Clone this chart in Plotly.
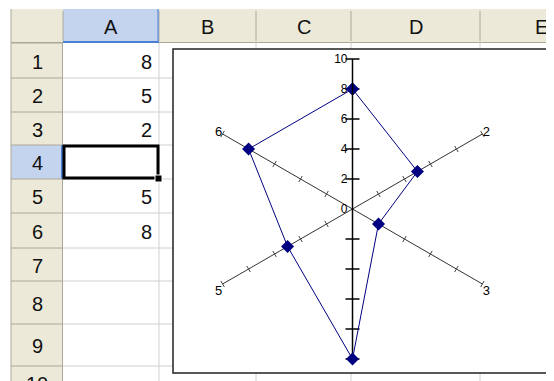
import plotly.graph_objects as go

W, H = 554, 381
OFF = 8  # default page margin in front of the figure

# spreadsheet content
col_letters = ["A", "B", "C", "D", "E"]
row_labels = ["1", "2", "3", "4", "5", "6", "7", "8", "9", "10"]
col_a_values = ["8", "5", "2", "", "5", "8"]

# radar series as drawn in the chart (category 4 plotted at the outer ring)
categories = ["1", "2", "3", "4", "5", "6"]
series_values = [8, 5, 2, 10, 5, 8]
value_ticks = [0, 2, 4, 6, 8, 10]
spoke_ticks = [2, 4, 6, 8, 10]

# sheet geometry in page pixels
col_edges = [63, 159, 256, 351, 480, 570]
row_edges = [43, 78, 112, 145, 179, 213, 248, 281, 324, 366, 400]
HDR_TOP, HDR_LEFT = 9, 11
chart_box = (173, 49, 548, 373)
center = (352.5, 209)
radius = 150

HEADER = "#ECE9D8"
HEADER_SEL = "#C4D4EF"
HEADER_LINE = "#ACA899"
GRID = "#D0D0D0"
SEL_BLUE = "#4A7FD6"
NAVY = "#000080"
FONT = "Liberation Sans"
RIGHT = W + OFF

shapes = []
annotations = []


def rect(x0, y0, x1, y1, fill=None, line_color=None, width=0, layer="below"):
    shapes.append(dict(type="rect", xref="x", yref="y", x0=x0, y0=y0, x1=x1, y1=y1,
                       fillcolor=fill, line=dict(color=line_color, width=width),
                       layer=layer))


def seg(x0, y0, x1, y1, color, width=1, layer="below"):
    shapes.append(dict(type="line", xref="x", yref="y", x0=x0, y0=y0, x1=x1, y1=y1,
                       line=dict(color=color, width=width), layer=layer))


def label(x, y, text, anchor="center", size=20):
    annotations.append(dict(x=x, y=y, text=text, xref="x", yref="y", showarrow=False,
                            xanchor=anchor, font=dict(family=FONT, size=size, color="#111")))


# cell gridlines
for y in row_edges[1:]:
    seg(col_edges[0], y, RIGHT, y, GRID)
for x in col_edges[1:-1]:
    seg(x, row_edges[0], x, RIGHT, GRID)

# column header band
rect(HDR_LEFT, HDR_TOP, RIGHT, row_edges[0], fill=HEADER)
rect(col_edges[0], HDR_TOP, col_edges[1], row_edges[0], fill=HEADER_SEL)
seg(HDR_LEFT, row_edges[0] - 0.5, RIGHT, row_edges[0] - 0.5, HEADER_LINE, 1)
seg(col_edges[0], row_edges[0] - 1, col_edges[1], row_edges[0] - 1, SEL_BLUE, 2)
for x in col_edges[:-1]:
    seg(x, HDR_TOP + 2, x, row_edges[0] - 2, HEADER_LINE)
seg(col_edges[1] - 1, HDR_TOP, col_edges[1] - 1, row_edges[0], SEL_BLUE, 1)
for i, letter in enumerate(col_letters):
    cx = (col_edges[i] + col_edges[i + 1]) / 2 if i < 4 else 541
    label(cx, (HDR_TOP + row_edges[0]) / 2 + 1, letter)

# row header band
rect(HDR_LEFT, row_edges[0], col_edges[0], RIGHT, fill=HEADER)
rect(HDR_LEFT, row_edges[3], col_edges[0], row_edges[4], fill=HEADER_SEL)
seg(col_edges[0] - 0.5, row_edges[0], col_edges[0] - 0.5, RIGHT, HEADER_LINE, 1)
seg(col_edges[0] - 1, row_edges[3], col_edges[0] - 1, row_edges[4], SEL_BLUE, 2)
for y in row_edges[:-1]:
    seg(HDR_LEFT, y, col_edges[0], y, HEADER_LINE)
seg(HDR_LEFT, HDR_TOP, HDR_LEFT, RIGHT, HEADER_LINE)
for i, lab in enumerate(row_labels):
    label(37, (row_edges[i] + row_edges[i + 1]) / 2 + 1, lab)

# values in column A
for i, v in enumerate(col_a_values):
    if v:
        label(col_edges[1] - 5, (row_edges[i] + row_edges[i + 1]) / 2 + 1, v, anchor="right")

# active cell A4 with fill handle
rect(col_edges[0] + 1, row_edges[3] + 1, col_edges[1] - 1, row_edges[4] - 1,
     line_color="black", width=3)
rect(col_edges[1] - 4, row_edges[4] - 4, col_edges[1] + 3, row_edges[4] + 3,
     fill="black", line_color="white", width=1)

# chart area
cx0, cy0, cx1, cy1 = chart_box
rect(cx0, cy0, cx1, cy1, fill="white", line_color="#222", width=1.5)

fig = go.Figure()
# invisible cartesian frame for the sheet
fig.add_trace(go.Scatter(x=[OFF, RIGHT], y=[OFF, H + OFF], mode="markers",
                         marker=dict(opacity=0), hoverinfo="skip", showlegend=False))

# tick marks along the spokes
fig.add_trace(go.Scatterpolar(
    r=value_ticks, theta=[categories[0]] * len(value_ticks), mode="markers",
    marker=dict(symbol="line-ew", size=10, line=dict(color="black", width=1.5)),
    hoverinfo="skip", showlegend=False))
fig.add_trace(go.Scatterpolar(
    r=[0, 10], theta=[categories[3]] * 2, mode="lines",
    line=dict(color="black", width=1.5), hoverinfo="skip", showlegend=False))
fig.add_trace(go.Scatterpolar(
    r=spoke_ticks, theta=[categories[3]] * len(spoke_ticks), mode="markers",
    marker=dict(symbol="line-ew", size=10, line=dict(color="black", width=1.5)),
    hoverinfo="skip", showlegend=False))
for k, ang in [(1, 60), (2, -60), (4, 60), (5, -60)]:
    fig.add_trace(go.Scatterpolar(
        r=spoke_ticks, theta=[categories[k]] * len(spoke_ticks), mode="markers",
        marker=dict(symbol="line-ew", size=5, angle=ang, line=dict(color="#444", width=1)),
        hoverinfo="skip", showlegend=False))

# data series
fig.add_trace(go.Scatterpolar(
    r=series_values + series_values[:1], theta=categories + categories[:1],
    mode="lines+markers", line=dict(color=NAVY, width=1),
    marker=dict(symbol="diamond", size=10, color=NAVY), showlegend=False))

fx, fy = center[0] - OFF, center[1] - OFF
dom_x = [(fx - radius) / W, (fx + radius) / W]
dom_y = [1 - (fy + radius) / H, 1 - (fy - radius) / H]

fig.update_layout(
    width=W,
    height=H,
    margin=dict(l=0, r=0, t=0, b=0),
    paper_bgcolor="white",
    plot_bgcolor="rgba(0,0,0,0)",
    showlegend=False,
    xaxis=dict(range=[OFF, RIGHT], visible=False, fixedrange=True, domain=[0, 1]),
    yaxis=dict(range=[H + OFF, OFF], visible=False, fixedrange=True, domain=[0, 1]),
    shapes=shapes,
    annotations=annotations,
    polar=dict(
        domain=dict(x=dom_x, y=dom_y),
        bgcolor="rgba(0,0,0,0)",
        gridshape="linear",
        radialaxis=dict(
            range=[0, 10], angle=90, tickangle=90, side="counterclockwise",
            tickvals=value_ticks, ticks="", showgrid=False,
            showline=True, linecolor="black", linewidth=1.5,
            tickfont=dict(family=FONT, size=12, color="black"),
        ),
        angularaxis=dict(
            type="category", categoryarray=categories, rotation=90,
            direction="clockwise", showline=False, ticks="",
            showgrid=True, gridcolor="#333", gridwidth=1,
            tickmode="array", tickvals=categories,
            ticktext=["", "2", "3", "", "5", "6"],
            tickfont=dict(family=FONT, size=13, color="black"),
        ),
    ),
)

fig.write_html("out.html")
